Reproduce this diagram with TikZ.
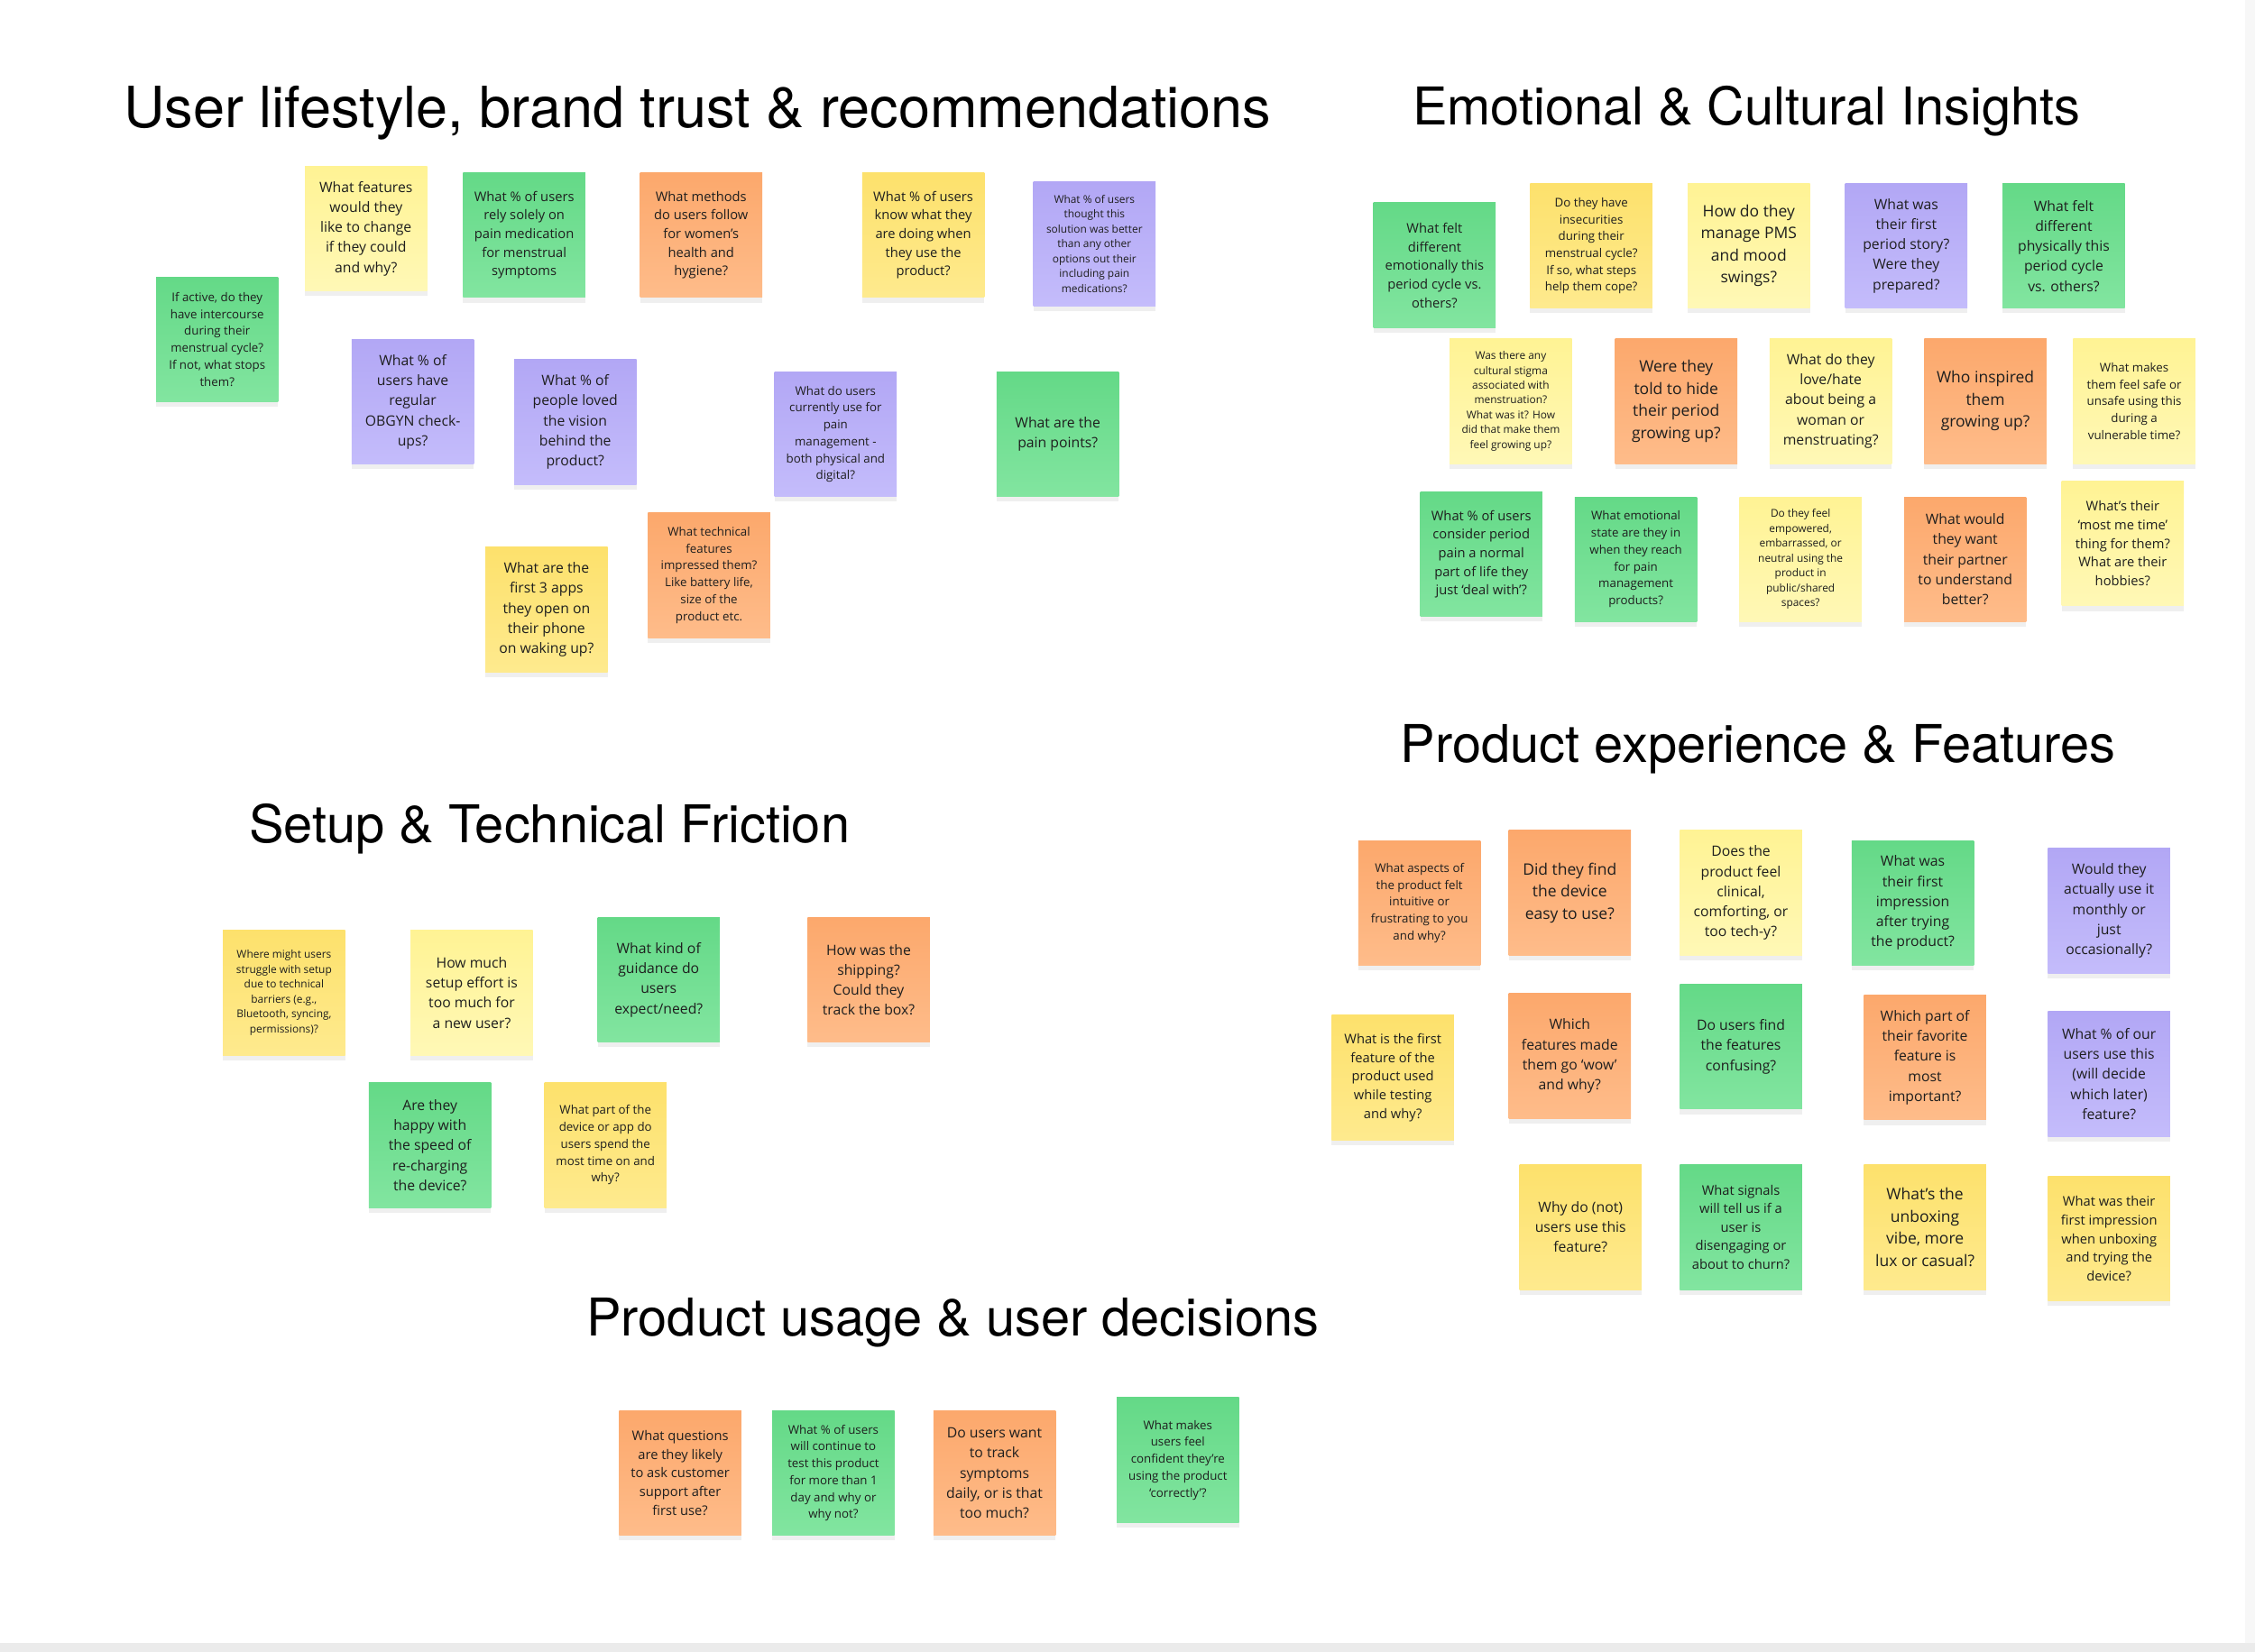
\documentclass[tikz,border=0pt]{standalone}
\usepackage{fontspec}
\usepackage{xcolor}
\usepackage{tikz}
\usetikzlibrary{shadows}

\newfontfamily\notefont{Open Sans}
\newfontfamily\headfont{TeX Gyre Heros}

\definecolor{grnA}{RGB}{100,217,135}
\definecolor{grnB}{RGB}{130,229,160}
\definecolor{ylwA}{RGB}{255,243,148}
\definecolor{ylwB}{RGB}{255,248,182}
\definecolor{gldA}{RGB}{253,225,108}
\definecolor{gldB}{RGB}{254,234,142}
\definecolor{orgA}{RGB}{252,168,108}
\definecolor{orgB}{RGB}{254,188,138}
\definecolor{prpA}{RGB}{178,167,245}
\definecolor{prpB}{RGB}{196,188,251}
\definecolor{inkc}{RGB}{30,30,30}

\tikzset{
  note/.style={rectangle, minimum width=1.36cm, minimum height=1.39cm,
    inner sep=0pt, align=center, text=inkc,
    drop shadow={shadow xshift=0pt, shadow yshift=-1.6pt, opacity=0.13}},
  ngreen/.style={note, top color=grnA, bottom color=grnB},
  nyellow/.style={note, top color=ylwA, bottom color=ylwB},
  ngold/.style={note, top color=gldA, bottom color=gldB},
  norange/.style={note, top color=orgA, bottom color=orgB},
  npurple/.style={note, top color=prpA, bottom color=prpB},
  fa/.style={font=\notefont\fontsize{3.4}{4.7}\selectfont},
  fb/.style={font=\notefont\fontsize{3.8}{5.35}\selectfont},
  fc/.style={font=\notefont\fontsize{4.2}{5.9}\selectfont},
  fd/.style={font=\notefont\fontsize{4.5}{6.35}\selectfont},
  fe/.style={font=\notefont\fontsize{5.0}{7.0}\selectfont},
  heading/.style={anchor=base, inner sep=0pt, text=black,
    font=\headfont\fontsize{16.5}{20}\selectfont}
}

\begin{document}
\begin{tikzpicture}[x=0.016cm, y=-0.016cm]
  \useasboundingbox (0,0) rectangle (1568,1149);
  % board edges
  \fill[black!3] (1561,0) rectangle (1568,1149);
  \fill[black!8] (0,1143) rectangle (1568,1149);

  % user lifestyle
  \node[heading, font=\headfont\fontsize{18}{22}\selectfont] (tLife) at (485,89)
    {User lifestyle, brand trust \& recommendations};
  \node[ngreen, fb] (lActive) at (151,236)
    {If active, do they\\have intercourse\\during their\\menstrual cycle?\\If not, what stops\\them?};
  \node[nyellow, fd] (lChange) at (254.5,159)
    {What features\\would they\\like to change\\if they could\\and why?};
  \node[ngreen, fc] (lMeds) at (364.5,163.5)
    {What \% of users\\rely solely on\\pain medication\\for menstrual\\symptoms};
  \node[norange, fc] (lMethods) at (487.5,163.5)
    {What methods\\do users follow\\for women’s\\health and\\hygiene?};
  \node[ngold, fc] (lKnow) at (642,163.5)
    {What \% of users\\know what they\\are doing when\\they use the\\product?};
  \node[npurple, fa] (lBetter) at (761,169.5)
    {What \% of users\\thought this\\solution was better\\than any other\\options out their\\including pain\\medications?};
  \node[npurple, fd] (lObgyn) at (287,279.5)
    {What \% of\\users have\\regular\\OBGYN check-\\ups?};
  \node[npurple, fd] (lVision) at (400,293.5)
    {What \% of\\people loved\\the vision\\behind the\\product?};
  \node[npurple, fb] (lCurrent) at (581,302)
    {What do users\\currently use for\\pain\\management -\\both physical and\\digital?};
  \node[ngreen, fd] (lPain) at (735.5,302)
    {What are the\\pain points?};
  \node[ngold, fd] (lApps) at (380,424)
    {What are the\\first 3 apps\\they open on\\their phone\\on waking up?};
  \node[norange, fb] (lTech) at (493,400)
    {What technical\\features\\impressed them?\\Like battery life,\\size of the\\product etc.};

  % emotional and cultural
  \node[heading] (tEmo) at (1214.5,87) {Emotional \& Cultural Insights};
  \node[ngreen, fc] (eEmot) at (997.5,184.5)
    {What felt\\different\\emotionally this\\period cycle vs.\\others?};
  \node[ngold, fb] (eInsec) at (1106.5,171)
    {Do they have\\insecurities\\during their\\menstrual cycle?\\If so, what steps\\help them cope?};
  \node[nyellow, fe] (ePms) at (1216,171)
    {How do they\\manage PMS\\and mood\\swings?};
  \node[npurple, fd] (eFirst) at (1325.5,171)
    {What was\\their first\\period story?\\Were they\\prepared?};
  \node[ngreen, fd] (ePhys) at (1435,171)
    {What felt\\different\\physically this\\period cycle\\vs. others?};
  \node[nyellow, fa] (eStigma) at (1050.5,279)
    {Was there any\\cultural stigma\\associated with\\menstruation?\\What was it? How\\did that make them\\feel growing up?};
  \node[norange, fe] (eHide) at (1165.5,279)
    {Were they\\told to hide\\their period\\growing up?};
  \node[nyellow, fd] (eLove) at (1273,279)
    {What do they\\love/hate\\about being a\\woman or\\menstruating?};
  \node[norange, fe] (eInspire) at (1380.5,279)
    {Who inspired\\them\\growing up?};
  \node[nyellow, fb] (eSafe) at (1484,279)
    {What makes\\them feel safe or\\unsafe using this\\during a\\vulnerable time?};
  \node[ngreen, fc] (eNormal) at (1030,385.5)
    {What \% of users\\consider period\\pain a normal\\part of life they\\just ‘deal with’?};
  \node[ngreen, fb] (eState) at (1137.5,389)
    {What emotional\\state are they in\\when they reach\\for pain\\management\\products?};
  \node[nyellow, fa] (eEmpower) at (1252,389)
    {Do they feel\\empowered,\\embarrassed, or\\neutral using the\\product in\\public/shared\\spaces?};
  \node[norange, fd] (ePartner) at (1366.5,389)
    {What would\\they want\\their partner\\to understand\\better?};
  \node[nyellow, fc] (eMeTime) at (1476,378)
    {What’s their\\‘most me time’\\thing for them?\\What are their\\hobbies?};

  % product experience
  \node[heading] (tExp) at (1222.5,530) {Product experience \& Features};
  \node[norange, fb] (xAspects) at (987,628)
    {What aspects of\\the product felt\\intuitive or\\frustrating to you\\and why?};
  \node[norange, fe] (xEasy) at (1091.5,621)
    {Did they find\\the device\\easy to use?};
  \node[nyellow, fd] (xClinical) at (1210.5,621)
    {Does the\\product feel\\clinical,\\comforting, or\\too tech-y?};
  \node[ngreen, fd] (xImpress) at (1330,628)
    {What was\\their first\\impression\\after trying\\the product?};
  \node[npurple, fd] (xMonthly) at (1466.5,633.5)
    {Would they\\actually use it\\monthly or\\just\\occasionally?};
  \node[ngold, fc] (xFirstFeat) at (968.5,749.5)
    {What is the first\\feature of the\\product used\\while testing\\and why?};
  \node[norange, fd] (xWow) at (1091.5,734.5)
    {Which\\features made\\them go ‘wow’\\and why?};
  \node[ngreen, fd] (xConfuse) at (1210.5,728)
    {Do users find\\the features\\confusing?};
  \node[norange, fd] (xFavorite) at (1338.5,735.5)
    {Which part of\\their favorite\\feature is\\most\\important?};
  \node[npurple, fd] (xShare) at (1466.5,747)
    {What \% of our\\users use this\\(will decide\\which later)\\feature?};
  \node[ngold, fd] (xWhyNot) at (1099,853.5)
    {Why do (not)\\users use this\\feature?};
  \node[ngreen, fc] (xChurn) at (1210.5,853.5)
    {What signals\\will tell us if a\\user is\\disengaging or\\about to churn?};
  \node[ngold, fe] (xVibe) at (1338.5,853.5)
    {What’s the\\unboxing\\vibe, more\\lux or casual?};
  \node[ngold, fc] (xUnbox) at (1466.5,861.5)
    {What was their\\first impression\\when unboxing\\and trying the\\device?};

  % setup
  \node[heading] (tSetup) at (382,586) {Setup \& Technical Friction};
  \node[ngold, fa] (sStruggle) at (197.5,690.5)
    {Where might users\\struggle with setup\\due to technical\\barriers (e.g.,\\Bluetooth, syncing,\\permissions)?};
  \node[nyellow, fd] (sEffort) at (328,690.5)
    {How much\\setup effort is\\too much for\\a new user?};
  \node[ngreen, fd] (sGuide) at (458,681.5)
    {What kind of\\guidance do\\users\\expect/need?};
  \node[norange, fd] (sShip) at (604,681.5)
    {How was the\\shipping?\\Could they\\track the box?};
  \node[ngreen, fd] (sCharge) at (299,796.5)
    {Are they\\happy with\\the speed of\\re-charging\\the device?};
  \node[ngold, fb] (sTime) at (421,796.5)
    {What part of the\\device or app do\\users spend the\\most time on and\\why?};

  % product usage
  \node[heading] (tUse) at (662.5,929) {Product usage \& user decisions};
  \node[norange, fc] (uSupport) at (473,1024.5)
    {What questions\\are they likely\\to ask customer\\support after\\first use?};
  \node[ngreen, fb] (uContinue) at (579.5,1024.5)
    {What \% of users\\will continue to\\test this product\\for more than 1\\day and why or\\why not?};
  \node[norange, fd] (uTrack) at (691.5,1024.5)
    {Do users want\\to track\\symptoms\\daily, or is that\\too much?};
  \node[ngreen, fb] (uConfident) at (819,1015.5)
    {What makes\\users feel\\confident they’re\\using the product\\‘correctly’?};
\end{tikzpicture}
\end{document}
